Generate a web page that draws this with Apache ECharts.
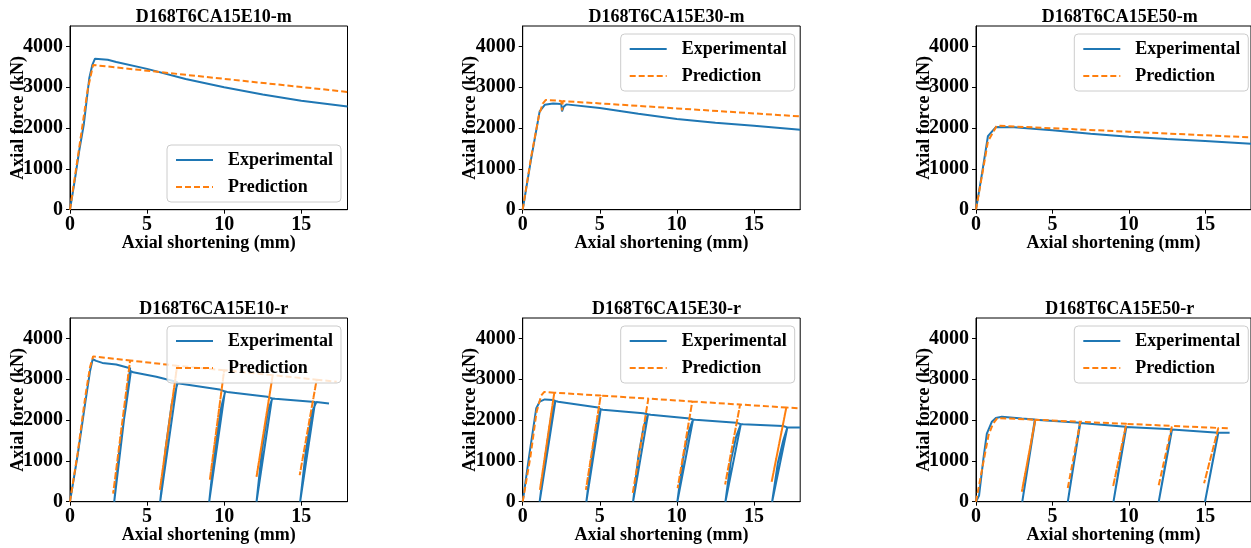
<!DOCTYPE html>
<html>
<head>
<meta charset="utf-8">
<script src="https://cdn.jsdelivr.net/npm/echarts@6/dist/echarts.min.js"></script>
<style>
  html, body { margin: 0; padding: 0; background: #fff; }
  #chart { width: 1251px; height: 548px; }
</style>
</head>
<body>
<div id="chart"></div>
<script>
// Axial force vs. axial shortening: monotonic (-m) and repeated (-r) loading
const titles = ['D168T6CA15E10-m', 'D168T6CA15E30-m', 'D168T6CA15E50-m',
                'D168T6CA15E10-r', 'D168T6CA15E30-r', 'D168T6CA15E50-r'];
const xTicks = [0, 5, 10, 15];
const yTicks = [0, 1000, 2000, 3000, 4000];
const xLabel = 'Axial shortening (mm)';
const yLabel = 'Axial force (kN)';

// [shortening (mm), force (kN)]
const E10m_exp = [[0,0],[0.3,700],[0.6,1450],[0.9,2100],[1.25,3220],[1.45,3550],[1.62,3700],[2.45,3675],[3.0,3620],[5,3450],[7.5,3200],[10,3000],[12.5,2820],[15,2670],[18,2530]];
const E10m_pred = [[0,0],[0.55,1400],[1.15,2950],[1.5,3545],[5,3405],[10,3205],[15,3005],[18,2885]];

const E30m_exp = [[0,0],[0.55,1250],[1.1,2410],[1.43,2570],[1.97,2600],[2.5,2590],[2.55,2410],[2.65,2520],[2.83,2580],[5,2490],[7.5,2350],[10,2220],[12.5,2130],[15,2055],[18,1960]];
const E30m_pred = [[0,0],[0.55,1300],[1.05,2300],[1.3,2600],[1.5,2690],[2.5,2665],[2.55,2430],[2.6,2660],[5,2604],[10,2482],[18,2285]];

const E50m_exp = [[0,0],[0.4,900],[0.78,1800],[1.3,2025],[2.5,2020],[5,1945],[7.5,1862],[10,1785],[12.5,1730],[15,1683],[18,1617]];
const E50m_pred = [[0,0],[0.4,850],[0.78,1670],[1.36,2058],[5,1995],[10,1910],[18,1772]];

const E10r_exp = [[0,0],[0.5,1150],[1.0,2450],[1.3,3200],[1.47,3490],[1.7,3450],[2.1,3400],[3.0,3360],[3.9,3270],[3.95,3230],
  [2.87,0],[3.2,1270],[3.63,2330],[3.95,3200],[4.1,3170],[5.6,3060],[6.95,2930],
  [5.85,0],[6.2,1300],[6.6,2400],[6.98,2900],[7.1,2890],[9.7,2750],[10.05,2700],
  [9.03,0],[9.4,1300],[9.8,2300],[10.07,2700],[10.2,2690],[12.8,2570],[13.1,2530],
  [12.1,0],[12.45,1250],[12.85,2250],[13.13,2530],[13.3,2520],[15.9,2445],[15.98,2440],
  [14.93,0],[15.3,1250],[15.7,2200],[15.98,2440],[16.8,2405]];
const E10r_pred = [[0,0],[0.5,1200],[1.0,2600],[1.3,3300],[1.5,3560],[3.9,3460],
  [2.8,200],[3.9,3460],[6.95,3330],
  [5.83,290],[6.95,3330],[10.0,3220],
  [9.07,530],[10.0,3220],[13.15,3100],
  [12.1,610],[13.15,3100],[16.0,2990],
  [14.9,650],[16.0,2990],[17.3,2940]];

const E30r_exp = [[0,0],[0.45,1200],[0.88,2290],[1.1,2450],[1.43,2505],[1.97,2490],[2.12,2470],
  [1.1,0],[1.5,1200],[1.85,2100],[2.12,2470],[2.3,2450],[4.89,2310],[5.06,2265],
  [4.13,0],[4.5,1150],[4.8,1900],[5.06,2265],[5.2,2255],[7.81,2165],[8.13,2140],
  [7.16,0],[7.5,1100],[7.85,1850],[8.13,2140],[8.3,2130],[10.84,2040],[11.05,2015],
  [10.03,0],[10.4,1050],[10.75,1700],[11.05,2015],[11.2,2005],[13.86,1935],[14.15,1900],
  [13.15,0],[13.5,1000],[13.85,1600],[14.15,1900],[14.3,1895],[16.89,1853],[17.17,1820],
  [16.18,0],[16.55,950],[16.9,1500],[17.17,1820],[18,1820]];
const E30r_pred = [[0,0],[0.5,1100],[0.9,2200],[1.2,2600],[1.4,2690],[2.05,2670],
  [1.12,290],[2.05,2670],[5.06,2600],
  [4.1,290],[5.06,2600],[8.15,2525],
  [7.13,190],[8.15,2525],[11.0,2455],
  [10.05,330],[11.0,2455],[14.1,2380],
  [13.13,420],[14.1,2380],[17.1,2308],
  [16.15,490],[17.1,2308],[18,2286]];

const E50r_exp = [[0,0],[0.2,150],[0.5,1100],[0.71,1670],[1.04,1960],[1.3,2050],[1.69,2080],[3.0,2040],[3.85,2016],
  [3.03,0],[3.88,2005],[6.8,1934],
  [6.01,0],[6.83,1930],[9.8,1836],
  [9.0,0],[9.84,1830],[12.8,1772],
  [11.96,0],[12.83,1768],[15.85,1690],
  [14.99,0],[15.86,1688],[16.6,1688]];
const E50r_pred = [[0,0],[0.4,800],[0.82,1630],[1.1,1900],[1.4,2050],[3.88,2008],
  [3.0,245],[3.88,2008],[6.83,1958],
  [5.99,300],[6.83,1958],[9.84,1907],
  [8.97,370],[9.84,1907],[12.83,1857],
  [11.94,370],[12.83,1857],[15.86,1806],
  [14.93,450],[15.86,1806],[16.5,1796]];

const expSets = [E10m_exp, E30m_exp, E50m_exp, E10r_exp, E30r_exp, E50r_exp];
const predSets = [E10m_pred, E30m_pred, E50m_pred, E10r_pred, E30r_pred, E50r_pred];

// panel placement (px)
const colLeft = [70, 522.7, 976];
const rowTop = [26, 318];
const plotW = 277.5, plotH = 183.7;
const legendPos = [[167, 145], [620.7, 34], [1074.3, 34], [167, 326], [620.7, 326], [1074.3, 326]];

const FONT = '"Liberation Serif", "Times New Roman", "DejaVu Serif", serif';
const BLUE = '#1f77b4', ORANGE = '#ff7f0e';
const plain = v => String(v);

const grids = [], xAxes = [], yAxes = [], series = [], titleArr = [], legends = [];
for (let i = 0; i < 6; i++) {
  const left = colLeft[i % 3], top = rowTop[Math.floor(i / 3)];
  grids.push({ left: left, top: top, width: plotW, height: plotH, show: true,
    borderColor: '#000', borderWidth: 1, backgroundColor: 'transparent' });
  titleArr.push({ text: titles[i], left: left + plotW / 2, top: top - 23, textAlign: 'center',
    textStyle: { fontFamily: FONT, fontWeight: 'bold', fontSize: 18, color: '#000' } });
  xAxes.push({ type: 'value', gridIndex: i, min: 0, max: 18,
    name: xLabel, nameLocation: 'middle', nameGap: 25, nameMoveOverlap: false,
    nameTextStyle: { fontFamily: FONT, fontWeight: 'bold', fontSize: 18, color: '#000' },
    axisLine: { show: true, onZero: false, lineStyle: { color: '#000', width: 1 } },
    axisTick: { show: true, length: 4, customValues: xTicks, lineStyle: { color: '#000' } },
    axisLabel: { customValues: xTicks, formatter: plain, margin: 5, fontFamily: FONT, fontWeight: 'bold', fontSize: 20, color: '#000' },
    splitLine: { show: false } });
  yAxes.push({ type: 'value', gridIndex: i, min: 0, max: 4500,
    name: yLabel, nameLocation: 'middle', nameGap: 43, nameRotate: 90, nameMoveOverlap: false,
    nameTextStyle: { fontFamily: FONT, fontWeight: 'bold', fontSize: 18, color: '#000' },
    axisLine: { show: true, onZero: false, lineStyle: { color: '#000', width: 1 } },
    axisTick: { show: true, length: 4, customValues: yTicks, lineStyle: { color: '#000' } },
    axisLabel: { customValues: yTicks, formatter: plain, margin: 7, fontFamily: FONT, fontWeight: 'bold', fontSize: 20, color: '#000' },
    splitLine: { show: false } });
  series.push({ name: 'Experimental', type: 'line', xAxisIndex: i, yAxisIndex: i,
    data: expSets[i], symbol: 'none', showSymbol: false, z: 2, animation: false,
    lineStyle: { color: BLUE, width: 2 }, itemStyle: { color: BLUE } });
  series.push({ name: 'Prediction', type: 'line', xAxisIndex: i, yAxisIndex: i,
    data: predSets[i], symbol: 'none', showSymbol: false, z: 3, animation: false,
    lineStyle: { color: ORANGE, width: 2, type: [6, 3] }, itemStyle: { color: ORANGE } });
  legends.push({ left: legendPos[i][0], top: legendPos[i][1], orient: 'vertical',
    data: ['Experimental', 'Prediction'], itemWidth: 37, itemHeight: 14, itemGap: 7,
    padding: [5, 8, 5, 8], backgroundColor: 'rgba(255,255,255,0.8)', borderColor: '#cccccc',
    borderWidth: 1, borderRadius: 4, selectedMode: false, z: 10,
    itemStyle: { opacity: 0 },
    textStyle: { fontFamily: FONT, fontWeight: 'bold', fontSize: 18, lineHeight: 20, color: '#000', padding: [0, 0, 0, 10] } });
}

const chart = echarts.init(document.getElementById('chart'), null, { renderer: 'canvas' });
chart.setOption({
  animation: false,
  backgroundColor: '#fff',
  title: titleArr,
  legend: legends,
  grid: grids,
  xAxis: xAxes,
  yAxis: yAxes,
  series: series
});
</script>
</body>
</html>
